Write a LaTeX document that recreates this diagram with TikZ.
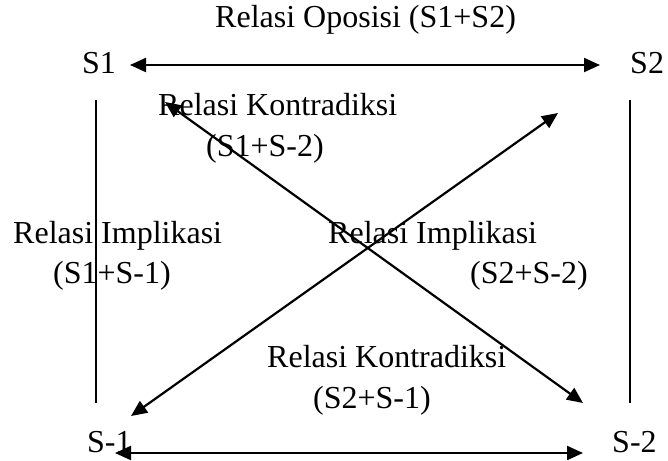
\documentclass[tikz,border=0pt]{standalone}
\usepackage{fontspec}
\setmainfont{Liberation Serif}
\usetikzlibrary{arrows.meta}
\begin{document}
\begin{tikzpicture}[x=1pt,y=-1pt,
  lbl/.style={anchor=base west,inner sep=0pt,font=\fontsize{32}{38}\selectfont},
  arr/.style={line width=2.2pt,{Triangle[length=16pt,width=14pt]}-{Triangle[length=16pt,width=14pt]}},
  vline/.style={line width=1.5pt}]
\useasboundingbox (0,0) rectangle (668,460);
% labels
\node[lbl] (title) at (215,28) {Relasi Oposisi (S1+S2)};
\node[lbl] (s1) at (82,73) {S1};
\node[lbl] (s2) at (630,73) {S2};
\node[lbl] (sm1) at (87,452) {S-1};
\node[lbl] (sm2) at (612,452) {S-2};
\node[lbl] (k1) at (158,115) {Relasi Kontradiksi};
\node[lbl] (k1b) at (206,156) {(S1+S-2)};
\node[lbl] (i1) at (13,243) {Relasi Implikasi};
\node[lbl] (i1b) at (53,283) {(S1+S-1)};
\node[lbl] (i2) at (328,243) {Relasi Implikasi};
\node[lbl] (i2b) at (470,283) {(S2+S-2)};
\node[lbl] (k2) at (267,367) {Relasi Kontradiksi};
\node[lbl] (k2b) at (313,408) {(S2+S-1)};
% end points
\coordinate (tl) at (130,65);
\coordinate (tr) at (600,65);
\coordinate (bl) at (115,453);
\coordinate (br) at (583,453);
\coordinate (la) at (96,100);
\coordinate (lb) at (96,403);
\coordinate (ra) at (630,100);
\coordinate (rb) at (630,403);
\coordinate (d1a) at (165,102);
\coordinate (d1b) at (583,403);
\coordinate (d2a) at (558,113);
\coordinate (d2b) at (131,416);
% connectors
\draw[arr] (tl) -- (tr);
\draw[arr] (bl) -- (br);
\draw[arr] (d1a) -- (d1b);
\draw[arr] (d2a) -- (d2b);
\draw[vline] (la) -- (lb);
\draw[vline] (ra) -- (rb);
\end{tikzpicture}
\end{document}
